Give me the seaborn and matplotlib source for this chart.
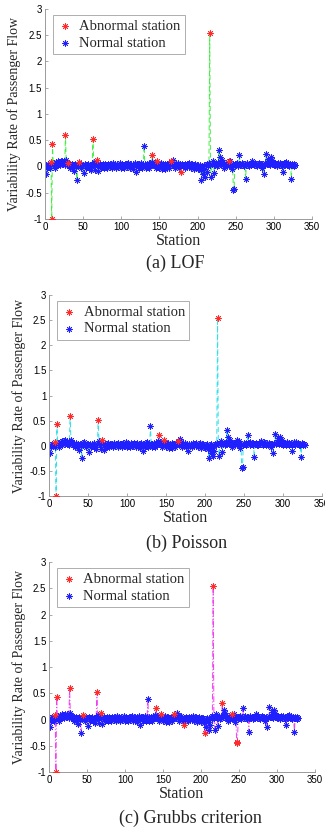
import matplotlib
matplotlib.use('Agg')
import matplotlib.pyplot as plt
import numpy as np
import pandas as pd
import seaborn as sns
from matplotlib.ticker import FuncFormatter

# variability rate of passenger flow per station (station 1..328)
rate = [
    -0.14, 0.02, -0.03, 0.04, 0.01, 0.03, -0.02, 0.08, -1.00, 0.43,
    0.03, 0.05, -0.02, 0.04, 0.08, 0.02, 0.10, 0.05, 0.09, 0.03,
    0.11, 0.06, 0.10, 0.04, 0.07, 0.02, 0.60, 0.12, 0.03, 0.07,
    0.01, 0.04, -0.03, 0.02, 0.05, -0.02, 0.03, -0.08, 0.02, 0.04,
    -0.01, -0.25, 0.03, 0.05, 0.08, 0.02, -0.02, 0.04, 0.01, 0.03,
    -0.12, 0.02, 0.04, -0.03, 0.03, 0.01, 0.05, -0.02, 0.02, -0.07,
    0.03, 0.04, 0.52, 0.09, 0.02, -0.07, 0.05, 0.12, 0.03, -0.08,
    0.02, 0.04, -0.02, 0.03, 0.01, 0.05, -0.03, 0.02, 0.04, 0.00,
    0.03, -0.02, 0.05, 0.02, -0.01, 0.04, 0.03, -0.03, 0.06, 0.02,
    0.00, 0.04, -0.02, 0.03, 0.05, -0.01, 0.02, 0.07, 0.03, -0.02,
    0.04, 0.01, 0.03, -0.03, 0.05, 0.02, -0.01, 0.04, 0.06, 0.01,
    -0.02, 0.03, 0.05, 0.00, 0.02, -0.04, 0.03, 0.06, 0.01, -0.10,
    0.02, 0.04, -0.03, 0.05, 0.02, 0.07, -0.02, 0.03, 0.01, 0.39,
    0.04, -0.03, 0.02, 0.05, 0.03, -0.02, 0.06, 0.04, 0.02, 0.09,
    0.21, 0.05, 0.03, 0.07, -0.02, 0.04, 0.11, 0.02, 0.05, -0.03,
    0.03, 0.06, 0.01, -0.04, 0.04, 0.02, 0.05, -0.05, 0.03, 0.01,
    0.04, -0.02, 0.06, 0.03, 0.10, 0.05, 0.02, 0.13, 0.07, 0.03,
    -0.03, 0.04, 0.02, 0.06, 0.01, -0.02, 0.03, -0.10, 0.02, 0.04,
    0.00, 0.03, -0.03, 0.05, 0.02, -0.01, 0.04, 0.02, 0.06, 0.01,
    -0.02, 0.03, 0.05, 0.00, -0.04, 0.02, 0.04, -0.03, 0.01, -0.05,
    0.02, -0.02, 0.03, -0.06, -0.25, 0.01, -0.15, 0.03, -0.04, -0.20,
    0.02, -0.10, 0.04, 0.01, 0.06, 2.55, 0.03, -0.20, 0.05, 0.10,
    0.02, -0.12, 0.04, 0.06, 0.01, 0.05, 0.03, 0.32, 0.08, 0.18,
    0.04, 0.12, 0.02, 0.05, -0.02, 0.03, 0.06, 0.01, 0.04, 0.07,
    0.11, 0.03, 0.10, 0.02, -0.05, 0.04, -0.45, -0.42, 0.02, 0.05,
    0.03, 0.06, 0.01, 0.04, 0.21, 0.05, 0.02, 0.07, 0.03, 0.04,
    0.01, 0.05, -0.23, 0.03, 0.06, 0.02, 0.04, 0.01, 0.05, 0.03,
    0.06, 0.10, 0.04, 0.02, 0.07, 0.03, 0.05, 0.01, 0.04, 0.06,
    0.02, 0.05, 0.03, -0.02, 0.04, 0.01, -0.15, 0.03, 0.06, 0.23,
    0.04, 0.07, 0.15, 0.05, 0.03, 0.18, 0.06, 0.12, 0.04, 0.02,
    0.06, 0.03, 0.05, 0.01, 0.07, 0.04, 0.02, 0.06, 0.03, 0.05,
    0.01, -0.10, 0.04, 0.07, 0.02, 0.08, 0.05, 0.03, 0.06, 0.01,
    0.04, 0.02, -0.23, 0.05, 0.03, 0.01, 0.04, 0.02,
]
station = list(range(1, len(rate) + 1))

# stations flagged as abnormal by each method
abnormal_lof = [8, 9, 10, 27, 30, 45, 63, 68, 141, 147, 165, 178, 216, 241]
abnormal_poisson = [8, 9, 10, 27, 63, 68, 141, 147, 165, 216]
abnormal_grubbs = [8, 9, 10, 27, 45, 63, 68, 141, 147, 165, 178, 205, 216,
                   228, 241, 247, 248]

captions = ['(a) LOF', '(b) Poisson', '(c) Grubbs criterion']

df = pd.DataFrame({'station': station, 'rate': rate})

sns.set_theme(style='white')
plt.rcParams['font.family'] = ['Liberation Serif', 'DejaVu Serif']

fig = plt.figure(figsize=(3.25, 8.31), dpi=100)

panels = [
    # rect, abnormal list, line colour, line style, caption pos
    ([0.138, 0.7365, 0.822, 0.2527], abnormal_lof, '#44ee44', (0, (5, 3)), (0.538, 1 - 263 / 831)),
    ([0.151, 0.403, 0.840, 0.242], abnormal_poisson, '#33e0e8', (0, (5, 3)), (0.575, 1 - 543 / 831)),
    ([0.151, 0.071, 0.818, 0.2527], abnormal_grubbs, '#ee44ee', (0, (6, 2, 1, 2)), (0.585, 1 - 818 / 831)),
]

asterisk = (8, 2, 0)
spine_col = '#9a9a9a'
fmt = FuncFormatter(lambda v, p: '%g' % v)

for (rect, abn, lcol, lsty, cap_pos), cap in zip(panels, captions):
    ax = fig.add_axes(rect)
    is_abn = df['station'].isin(abn)
    sns.lineplot(data=df, x='station', y='rate', ax=ax, color=lcol, linewidth=0.7,
                 linestyle=lsty, zorder=1, legend=False)
    sns.scatterplot(data=df[is_abn], x='station', y='rate', ax=ax, marker=asterisk,
                    color='#ff2a2a', s=16, linewidth=0.6, label='Abnormal station', zorder=3)
    sns.scatterplot(data=df[~is_abn], x='station', y='rate', ax=ax, marker=asterisk,
                    color='#2020ff', s=16, linewidth=0.6, label='Normal station', zorder=2)

    ax.set_xlim(0, 350)
    ax.set_ylim(-1, 3)
    ax.set_xticks(np.arange(0, 351, 50))
    ax.set_yticks(np.arange(-1, 3.01, 0.5))
    ax.xaxis.set_major_formatter(fmt)
    ax.yaxis.set_major_formatter(fmt)
    ax.tick_params(direction='in', length=2.5, width=0.6, colors=spine_col,
                   labelcolor='black', labelsize=7, pad=2, bottom=True, left=True)
    for lab in ax.get_xticklabels() + ax.get_yticklabels():
        lab.set_family('Liberation Sans')
    for side in ['top', 'right']:
        ax.spines[side].set_visible(False)
    for side in ['left', 'bottom']:
        ax.spines[side].set_color(spine_col)
        ax.spines[side].set_linewidth(0.7)

    ax.set_xlabel('Station', fontsize=11.5, labelpad=1)
    ax.set_ylabel('Variability Rate of Passenger Flow', fontsize=10, labelpad=3)

    leg = ax.legend(loc='upper left', bbox_to_anchor=(0.03, 0.97), fontsize=10.5,
                    frameon=True, fancybox=False, edgecolor=spine_col,
                    handletextpad=0.5, borderpad=0.3, labelspacing=0.25,
                    handlelength=1.0, borderaxespad=0, markerscale=1.0)
    leg.get_frame().set_linewidth(0.7)

    fig.text(cap_pos[0], cap_pos[1], cap, ha='center', va='center', fontsize=13)

fig.savefig('out.png', dpi=100)
